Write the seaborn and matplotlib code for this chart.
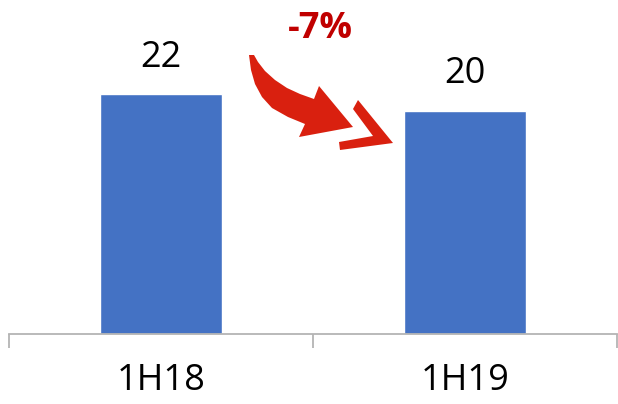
import matplotlib
matplotlib.use("Agg")
import matplotlib.pyplot as plt
import pandas as pd
import seaborn as sns
from matplotlib.patches import Polygon

# Data
periods = ["1H18", "1H19"]
values = [21.6, 20.1]
change_label = "-7%"

BAR_COLOR = "#4472C4"
ARROW_COLOR = "#D9200F"
TEXT_RED = "#C00000"

sns.set_theme(style="white")
plt.rcParams["font.family"] = ["Open Sans", "DejaVu Sans"]

W, H = 618, 404
fig = plt.figure(figsize=(W / 100, H / 100), dpi=100)
ax = fig.add_axes([9 / W, (H - 334) / H, (617 - 9) / W, 334 / H])

df = pd.DataFrame({"period": periods, "value": values})
sns.barplot(data=df, x="period", y="value", color=BAR_COLOR, width=0.4,
            saturation=1, ax=ax)

ax.set_xlim(-0.5, 1.5)
ax.set_ylim(0, 30.1)
ax.set_xlabel("")
ax.set_ylabel("")
ax.set_yticks([])

# value labels above bars
for i, v in enumerate(values):
    ax.annotate(f"{v:.0f}", (i, v), xytext=(0, 20), textcoords="offset points",
                ha="center", va="baseline", fontsize=26, color="black")

# axis styling: grey base line, boundary ticks between categories
for side in ["top", "right", "left"]:
    ax.spines[side].set_visible(False)
ax.spines["bottom"].set_color("#B4B4B4")
ax.spines["bottom"].set_linewidth(1.3)
ax.set_xticks([0, 1])
ax.set_xticklabels(periods, fontsize=26, color="black")
ax.tick_params(axis="x", which="major", length=0, pad=21)
ax.set_xticks([-0.5, 0.5, 1.5], minor=True)
ax.tick_params(axis="x", which="minor", length=10, width=1.3, color="#B4B4B4",
               bottom=True)

# change annotation
fig.text(320 / W, 1 - 38 / H, change_label, ha="center", va="baseline",
         fontsize=26, fontweight="bold", color=TEXT_RED)


def px(points):
    return [(x / W, 1 - y / H) for x, y in points]


arrow = [(249, 55), (251, 70), (255, 84), (262, 97), (272, 108), (288, 117),
         (305, 124), (299, 137), (353, 127), (319, 86), (314, 99), (300, 94),
         (287, 88), (275, 80), (265, 71), (258, 62), (254, 55)]
chevron = [(358, 100), (393, 143), (340, 150), (339, 142), (373, 136), (353, 109)]
for shape in (arrow, chevron):
    fig.patches.append(Polygon(px(shape), closed=True, transform=fig.transFigure,
                               facecolor=ARROW_COLOR, edgecolor="none"))

fig.savefig("out.png", dpi=100)
